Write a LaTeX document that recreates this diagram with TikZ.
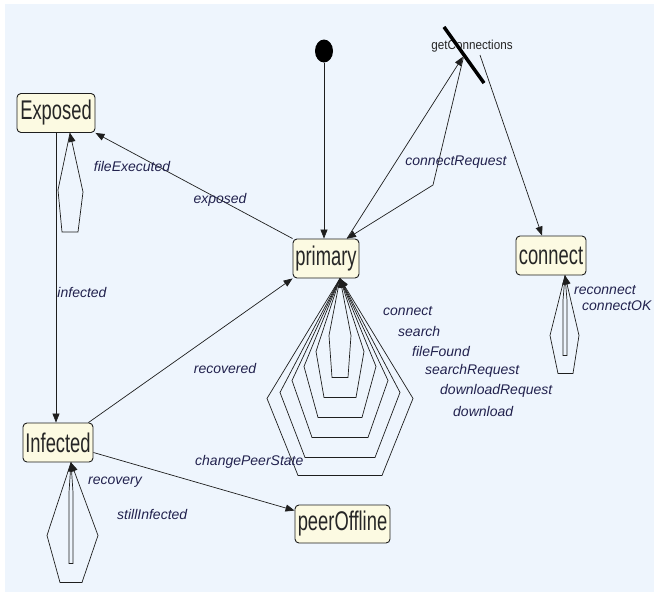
\documentclass[tikz,border=0pt]{standalone}
\usepackage{fontspec}
\setmainfont{Liberation Sans}
\newfontfamily\statefont[FakeStretch=0.68]{Liberation Sans}
\newfontfamily\forkfont[FakeStretch=0.9]{Liberation Sans}
\usetikzlibrary{arrows.meta,shapes.geometric}
\definecolor{bgblue}{HTML}{EEF5FD}
\definecolor{statefill}{HTML}{FCFAE2}
\definecolor{linecol}{HTML}{1E1E1E}
\definecolor{labcol}{HTML}{22224E}
\tikzset{
  statebox/.style={draw=linecol, line width=0.9pt, fill=statefill, rounded corners=4pt,
    font={\statefont\fontsize{27}{30}\selectfont}, text=black!85,
    minimum height=39pt, inner xsep=2pt, inner ysep=0pt},
  tr/.style={draw=linecol, line width=0.7pt, -{Triangle[length=9pt,width=7pt]}},
  lab/.style={font={\fontsize{14}{16}\selectfont\itshape}, text=labcol, inner sep=0pt},
  forkbar/.style={fill=black, draw=none, minimum width=69pt, minimum height=3.5pt, inner sep=0pt, rotate=-54.5},
  initstate/.style={ellipse, fill=black, minimum width=18pt, minimum height=23pt, inner sep=0pt}
}
\begin{document}
\begin{tikzpicture}[x=1pt,y=-1pt]
\useasboundingbox (0,0) rectangle (654,592);
\fill[white] (0,0) rectangle (654,592);
\fill[bgblue] (5,4) rectangle (654,592);

% states
\node[statebox, minimum width=78pt] (exposedS) at (56,113) {Exposed};
\node[statebox, minimum width=66pt] (primary) at (326,258.5) {primary};
\node[statebox, minimum width=70pt] (connectS) at (551,255.5) {connect};
\node[statebox, minimum width=70pt] (infectedS) at (58,442.5) {Infected};
\node[statebox, minimum width=95pt, minimum height=38pt] (offline) at (342.5,524) {peerOffline};
\node[initstate] (init) at (324,51) {};

% fork bar with label
\node[font={\forkfont\fontsize{13}{15}\selectfont}, text=black!85, inner sep=0pt] (forklab) at (472,46) {getConnections};
\node[forkbar] (fork) at (464,55) {};

% loop anchors
\coordinate (ploop) at ([xshift=14pt]primary.south);
\coordinate (eloop) at ([xshift=14pt]exposedS.south);
\coordinate (iloop) at ([xshift=13pt]infectedS.south);
\coordinate (cloop) at ([xshift=14pt]connectS.south);
\coordinate (crbend) at (433,185);

% transitions
\draw[tr] (init) -- (init |- primary.north);
\draw[tr] (primary.north west) -- (exposedS.south east);
\draw[tr] (exposedS.south) -- (exposedS.south |- infectedS.north);
\draw[tr] ([xshift=-5pt]infectedS.north east) -- (primary.south west);
\draw[tr] ([yshift=-10pt]infectedS.east) -- ([yshift=-6pt]offline.north west);
\draw[tr] ([xshift=21pt]primary.north) -- (fork);
\draw[tr] (fork) -- (crbend) -- ([xshift=21pt]primary.north);
\draw[tr] ([xshift=16pt]fork.center) -- ([xshift=-9pt]connectS.north);

% self loops
\draw[tr] (eloop) -- +(-12,57) -- +(-8,99) -- +(8,99) -- +(13,59) -- (eloop);
\draw[tr] (iloop) -- +(-24,73) -- +(-11,120) -- +(11,120) -- +(27,73) -- (iloop);
\draw[tr] (iloop) -- +(-2,30) -- +(-2,101) -- +(2,101) -- +(2,30) -- (iloop);
\draw[tr] (cloop) -- +(-15,60) -- +(-7,98) -- +(8,98) -- +(14,60) -- (cloop);
\draw[tr] (cloop) -- +(-2,25) -- +(-2,80) -- +(2,80) -- +(2,25) -- (cloop);
\foreach \w/\ys/\b/\yb in {11/57/8/99, 24/73/16/119, 36/88/22/139, 48/102/28/159, 60/114/35/179, 73/120/42/197}
  \draw[tr] (ploop) -- +(-\w,\ys) -- +(-\b,\yb) -- +(\b,\yb) -- +(\w,\ys) -- (ploop);

% labels
\node[lab] (lfile) at (132,166) {fileExecuted};
\node[lab] (lexp) at (220,200) {exposed};
\node[lab] (linf) at (82,292) {infected};
\node[lab] (lrec) at (225,368) {recovered};
\node[lab] (lcr) at (456,162) {connectRequest};
\node[lab, anchor=west] (l1) at (383,311) {connect};
\node[lab, anchor=west] (l2) at (398,331) {search};
\node[lab, anchor=west] (l3) at (412,351) {fileFound};
\node[lab, anchor=west] (l4) at (425,371) {searchRequest};
\node[lab, anchor=west] (l5) at (440,391) {downloadRequest};
\node[lab, anchor=west] (l6) at (453,411) {download};
\node[lab, anchor=west] (lrc) at (574,290) {reconnect};
\node[lab, anchor=west] (lok) at (582,306) {connectOK};
\node[lab, anchor=west] (lrv) at (88,482) {recovery};
\node[lab, anchor=west] (lsi) at (117,514) {stillInfected};
\node[lab, anchor=west] (lcps) at (195,462) {changePeerState};
\end{tikzpicture}
\end{document}
